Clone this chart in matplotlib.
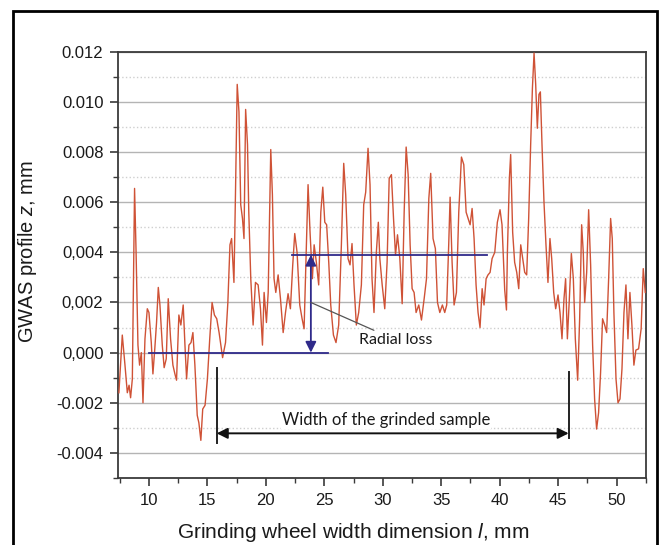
import matplotlib
matplotlib.use("Agg")
import matplotlib.pyplot as plt
import numpy as np
from matplotlib.patches import Rectangle
from matplotlib.ticker import MultipleLocator, FixedLocator, FixedFormatter

# ── profile (x in mm, z in micrometres) ────────────────────────────────────
profile_x = [
    7.43, 7.72, 7.95, 8.15, 8.30, 8.43, 8.58, 8.77, 8.90, 9.06, 9.20, 9.35, 9.49, 9.66, 9.86,
    10.0, 10.2, 10.34, 10.5, 10.65, 10.8, 10.94, 11.14, 11.3, 11.48, 11.65, 11.85, 12.05, 12.22,
    12.36, 12.56, 12.73, 12.93, 13.08, 13.22, 13.42, 13.6, 13.76, 13.93, 14.13, 14.27, 14.44,
    14.6, 14.8, 15.0, 15.2, 15.4, 15.6, 15.8, 16.0, 16.3, 16.55, 16.75, 16.93, 17.07, 17.27,
    17.4, 17.55, 17.7, 17.85, 18.0, 18.13, 18.27, 18.43, 18.54, 18.71, 18.91, 19.11, 19.34,
    19.54, 19.71, 19.85, 20.05, 20.2, 20.42, 20.56, 20.7, 20.85, 21.05, 21.25, 21.48, 21.68,
    21.9, 22.1, 22.3, 22.47, 22.67, 22.9, 23.1, 23.27, 23.47, 23.61, 23.78, 23.98, 24.13,
    24.32, 24.52, 24.7, 24.87, 25.04, 25.2, 25.38, 25.55, 25.78, 26.0, 26.23, 26.46, 26.66,
    26.83, 27.03, 27.2, 27.37, 27.54, 27.74, 27.94, 28.17, 28.37, 28.54, 28.74, 28.91, 29.08,
    29.25, 29.45, 29.62, 29.75, 29.95, 30.17, 30.37, 30.55, 30.74, 30.92, 31.09, 31.26, 31.46,
    31.66, 31.83, 32.0, 32.17, 32.34, 32.51, 32.68, 32.85, 33.08, 33.31, 33.54, 33.74, 33.94,
    34.1, 34.3, 34.5, 34.68, 34.88, 35.1, 35.3, 35.47, 35.64, 35.76, 35.93, 36.1, 36.3, 36.5,
    36.73, 36.93, 37.13, 37.3, 37.47, 37.64, 37.81, 37.98, 38.15, 38.32, 38.5, 38.66, 38.84,
    39.0, 39.18, 39.35, 39.58, 39.8, 40.03, 40.2, 40.43, 40.58, 40.66, 40.83, 40.94, 41.11,
    41.28, 41.46, 41.63, 41.8, 41.97, 42.14, 42.31, 42.48, 42.65, 42.8, 42.94, 43.08, 43.22,
    43.36, 43.48, 43.62, 43.79, 43.96, 44.13, 44.3, 44.45, 44.62, 44.79, 44.99, 45.16, 45.33,
    45.5, 45.64, 45.79, 45.96, 46.13, 46.3, 46.47, 46.67, 46.84, 47.01, 47.15, 47.27, 47.44,
    47.61, 47.78, 47.95, 48.12, 48.29, 48.46, 48.63, 48.8, 48.98, 49.15, 49.32, 49.49, 49.63,
    49.77, 49.95, 50.12, 50.29, 50.46, 50.63, 50.8, 50.97, 51.14, 51.31, 51.48, 51.65, 51.88,
    52.1, 52.28, 52.45,
]
profile_z_um = [
    -1.6, 0.7, -0.5, -1.6, -1.3, -1.8, -1.05, 6.55, 4.0, 0.3, -0.5, 0.0, -2.0, 0.55, 1.75,
    1.6, 0.4, -0.85, 0.15, 1.2, 2.6, 1.9, 0.3, -0.6, -0.25, 2.15, 0.55, -0.5, -0.85,
    -1.1, 1.5, 1.1, 1.9, 0.3, -1.05, 0.3, 0.4, 0.8, -0.5, -2.5, -2.8, -3.5,
    -2.25, -2.1, -1.05, 0.55, 2.0, 1.5, 1.35, 0.8, -0.2, 0.4, 2.0, 4.3, 4.55, 2.8,
    6.3, 10.7, 9.6, 5.9, 5.35, 4.55, 9.7, 8.3, 5.6, 2.95, 1.1, 2.8, 2.7,
    1.75, 0.3, 2.4, 1.2, 2.4, 8.1, 6.3, 2.95, 2.4, 3.1, 2.15, 0.8, 1.6,
    2.35, 1.75, 3.5, 4.75, 4.0, 1.9, 1.35, 0.95, 4.3, 6.7, 4.8, 2.95, 4.3,
    3.6, 2.7, 5.6, 6.6, 5.2, 5.1, 3.6, 1.9, 0.7, 0.4, 1.1, 4.3, 7.55,
    6.3, 3.75, 3.5, 4.35, 2.7, 1.1, 1.6, 2.7, 5.9, 6.4, 8.15, 6.7, 2.95,
    1.6, 4.0, 5.2, 3.75, 2.7, 1.75, 3.6, 6.95, 7.1, 5.35, 3.9, 4.7, 3.75,
    1.95, 5.6, 8.2, 7.1, 4.3, 2.55, 2.4, 1.6, 1.9, 1.3, 2.15, 2.95, 6.15,
    7.15, 4.55, 4.15, 2.0, 1.6, 1.9, 1.6, 1.9, 4.3, 6.2, 3.6, 1.9, 2.4, 5.6,
    7.8, 7.5, 5.6, 5.35, 5.1, 5.75, 4.55, 2.7, 1.6, 1.0, 2.55, 1.9, 2.95,
    3.1, 3.2, 3.75, 4.0, 5.2, 5.7, 5.1, 2.5, 1.7, 4.0, 6.95, 7.9, 4.8,
    3.6, 3.2, 2.55, 4.3, 3.75, 3.2, 3.1, 5.35, 8.3, 10.55, 11.95, 10.7, 8.95,
    10.3, 10.4, 8.3, 6.0, 4.3, 2.8, 4.55, 3.75, 2.4, 1.75, 2.3, 1.6, 0.55,
    2.15, 2.95, 0.55, 2.15, 3.95, 2.95, 0.55, -1.1, 1.35, 5.1, 4.0, 2.0, 3.2,
    5.7, 3.5, 0.3, -1.85, -3.05, -2.4, -0.8, 1.35, 1.1, 0.8, 2.95, 5.35, 4.55,
    1.6, -1.05, -2.0, -1.85, -0.65, 1.6, 2.7, 0.55, 2.4, 1.1, -0.5, 0.1, 0.15,
    0.95, 3.35, 2.4,
]

y_ticks = [-0.004, -0.002, 0.000, 0.002, 0.004, 0.006, 0.008, 0.010, 0.012]
y_tick_labels = ["-0.004", "-0.002", "0,000", "0,002", "0,004", "0.006", "0.008", "0.010", "0.012"]

# annotation geometry (mm on x, mm on z)
radial_top_z = 0.0039
radial_top_span = (22.2, 38.9)
radial_base_span = (10.0, 25.3)
radial_arrow_x = 23.85
sample_edges = (15.8, 45.9)

COLORS = {
    "profile": "#cf5236",
    "navy":    "#2f2a8a",
    "text":    "#1a1a1a",
    "grid":    "#b4b4b4",
    "minor":   "#cfcfcf",
    "spine":   "#3a3a3a",
}

plt.rcParams["mathtext.fontset"] = "custom"
plt.rcParams["mathtext.rm"] = "Liberation Sans"
plt.rcParams["mathtext.it"] = "Liberation Sans:italic"

fig = plt.figure(figsize=(6.59, 5.45), dpi=100)
fig.patch.set_facecolor("white")
ax = fig.add_axes([0.179, 0.123, 0.801, 0.782])

x = np.array(profile_x)
z = np.array(profile_z_um) / 1000.0
ax.plot(x, z, color=COLORS["profile"], linewidth=1.0, zorder=3)

ax.set_xlim(7.35, 52.5)
ax.set_ylim(-0.005, 0.012)

ax.xaxis.set_major_locator(MultipleLocator(5))
ax.xaxis.set_minor_locator(MultipleLocator(2.5))
ax.yaxis.set_major_locator(FixedLocator(y_ticks))
ax.yaxis.set_major_formatter(FixedFormatter(y_tick_labels))
ax.yaxis.set_minor_locator(MultipleLocator(0.001))

ax.yaxis.grid(True, which="major", color=COLORS["grid"], linewidth=1.0, zorder=0)
ax.yaxis.grid(True, which="minor", color=COLORS["minor"], linewidth=1.0, linestyle=":", zorder=0)
ax.set_axisbelow(True)

for sp in ax.spines.values():
    sp.set_color(COLORS["spine"])
    sp.set_linewidth(1.3)

ax.tick_params(which="major", direction="out", length=6, width=1.2, color=COLORS["spine"],
               labelsize=12, labelcolor=COLORS["text"], pad=4.5)
ax.tick_params(which="minor", direction="out", length=3.5, width=1.0, color=COLORS["spine"])
for lab in ax.get_xticklabels() + ax.get_yticklabels():
    lab.set_fontfamily("Liberation Sans")

ax.set_ylabel(r"GWAS profile $\mathit{z}$, mm", fontsize=14.5, family="Liberation Sans",
              color=COLORS["text"])
ax.yaxis.set_label_coords(-0.15, 0.531)
ax.set_xlabel(r"Grinding wheel width dimension $\mathit{l}$, mm", fontsize=15,
              family="Liberation Sans", color=COLORS["text"])
ax.xaxis.set_label_coords(0.446, -0.1)

# ── radial loss markup ────────────────────────────────────────────────
ax.plot(radial_top_span, [radial_top_z, radial_top_z], color=COLORS["navy"], linewidth=1.3, zorder=4)
ax.plot(radial_base_span, [0.0, 0.0], color=COLORS["navy"], linewidth=1.3, zorder=4)
ax.annotate("", xy=(radial_arrow_x, radial_top_z), xytext=(radial_arrow_x, 0.0),
            arrowprops=dict(arrowstyle="<|-|>", color=COLORS["navy"], lw=1.3,
                            mutation_scale=16, shrinkA=0, shrinkB=0), zorder=5)
ax.annotate("Radial loss", xy=(radial_arrow_x, 0.0020), xytext=(28.0, 0.0005),
            fontsize=11.5, family="Lato", color=COLORS["text"], va="center", ha="left",
            arrowprops=dict(arrowstyle="-", color="#555555", lw=0.9, shrinkA=0, shrinkB=0),
            zorder=5)

# ── sample width markup ───────────────────────────────────────────────
ax.plot([sample_edges[0]] * 2, [-0.0006, -0.0036], color="#222222", linewidth=1.4, zorder=4)
ax.plot([sample_edges[1]] * 2, [-0.00078, -0.0034], color="#222222", linewidth=1.4, zorder=4)
ax.annotate("", xy=(sample_edges[0], -0.00322), xytext=(sample_edges[1], -0.00322),
            arrowprops=dict(arrowstyle="<|-|>", color="#111111", lw=1.4,
                            mutation_scale=16, shrinkA=0, shrinkB=0), zorder=5)
ax.text(30.3, -0.00268, "Width of the grinded sample", fontsize=12, family="Lato",
        color=COLORS["text"], ha="center", va="center", zorder=5,
        bbox=dict(boxstyle="square,pad=0.05", facecolor="white", edgecolor="none"))

# outer frame
fig.patches.append(Rectangle((13 / 659, -0.01), 644 / 659, 1.01 - 11 / 545,
                             transform=fig.transFigure, fill=False,
                             edgecolor="black", linewidth=2.0))

fig.savefig("out.png", dpi=100, facecolor="white")
